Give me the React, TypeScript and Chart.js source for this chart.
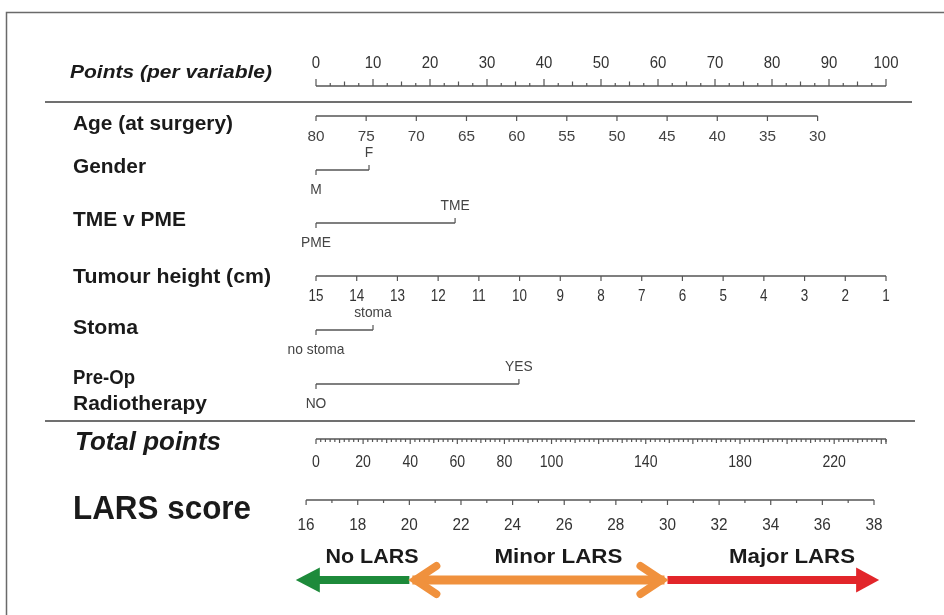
import React, { useEffect, useRef } from "react";
import { Chart, registerables } from "chart.js";

Chart.register(...registerables);

// ---------------- data ----------------
const POINTS_TICKS = [0, 10, 20, 30, 40, 50, 60, 70, 80, 90, 100];
const POINTS_MINOR_STEP = 2.5;

const AGE_TICKS = [80, 75, 70, 65, 60, 55, 50, 45, 40, 35, 30];
const AGE_POINTS = [0, 88]; // points at age 80 and age 30

const GENDER_LEVELS = ["M", "F"];
const GENDER_POINTS = [0, 9.3];

const SURGERY_LEVELS = ["PME", "TME"];
const SURGERY_POINTS = [0, 24.4];

const TUMOUR_TICKS = [15, 14, 13, 12, 11, 10, 9, 8, 7, 6, 5, 4, 3, 2, 1];
const TUMOUR_POINTS = [0, 100]; // points at 15 cm and 1 cm

const STOMA_LEVELS = ["no stoma", "stoma"];
const STOMA_POINTS = [0, 10];

const RADIO_LEVELS = ["NO", "YES"];
const RADIO_POINTS = [0, 35.6];

const TOTAL_TICK_LABELS = [0, 20, 40, 60, 80, 100, 140, 180, 220];
const TOTAL_RANGE = [0, 242];
const TOTAL_MINOR_STEP = 2;

const LARS_TICKS = [16, 17, 18, 19, 20, 21, 22, 23, 24, 25, 26, 27, 28, 29, 30, 31, 32, 33, 34, 35, 36, 37, 38];
const LARS_TOTAL = [-4.2, 236.9]; // total points at LARS 16 and LARS 38

const LARS_CATEGORIES = ["No LARS", "Minor LARS", "Major LARS"];
const LARS_CUTS = [15.6, 20, 30, 38.2];

// ---------------- helpers ----------------
const lin = (v: number, v0: number, v1: number, p0: number, p1: number) =>
  p0 + ((v - v0) * (p1 - p0)) / (v1 - v0);

const agePts = (a: number) => lin(a, AGE_TICKS[0], AGE_TICKS[AGE_TICKS.length - 1], AGE_POINTS[0], AGE_POINTS[1]);
const tumourPts = (h: number) =>
  lin(h, TUMOUR_TICKS[0], TUMOUR_TICKS[TUMOUR_TICKS.length - 1], TUMOUR_POINTS[0], TUMOUR_POINTS[1]);
const totalPts = (t: number) => lin(t, TOTAL_RANGE[0], TOTAL_RANGE[1], 0, 100);
const larsPts = (l: number) =>
  totalPts(lin(l, LARS_TICKS[0], LARS_TICKS[LARS_TICKS.length - 1], LARS_TOTAL[0], LARS_TOTAL[1]));

const W = 944;
const H = 615;
const PX0 = 316; // pixel of 0 points
const PXPP = 5.7; // pixels per point

const ROW = {
  points: 86,
  age: 116,
  gender: 170,
  surgery: 223,
  tumour: 276,
  stoma: 330,
  radio: 384,
  total: 439,
  lars: 500,
  arrows: 580,
};

const SANS = '"Liberation Sans", Arial, Helvetica, sans-serif';

function fitText(
  ctx: CanvasRenderingContext2D,
  text: string,
  x: number,
  y: number,
  width: number | null,
  align: CanvasTextAlign,
  sx = 1
) {
  ctx.save();
  ctx.textAlign = align;
  ctx.textBaseline = "middle";
  ctx.translate(x, y);
  if (width) {
    const w = ctx.measureText(text).width;
    ctx.scale(width / w, 1);
  } else if (sx !== 1) {
    ctx.scale(sx, 1);
  }
  ctx.fillText(text, 0, 0);
  ctx.restore();
}

const seg = (p0: number, p1: number, y: number) => [
  { x: p0, y },
  { x: p1, y },
];

const nomogramPlugin = {
  id: "nomogram",
  beforeDraw(chart: any) {
    const ctx = chart.ctx as CanvasRenderingContext2D;
    ctx.save();
    ctx.fillStyle = "#ffffff";
    ctx.fillRect(0, 0, chart.width, chart.height);
    ctx.restore();
  },
  afterDatasetsDraw(chart: any) {
    const ctx = chart.ctx as CanvasRenderingContext2D;
    const xs = chart.scales.x;
    const ys = chart.scales.y;
    const px = (p: number) => xs.getPixelForValue(p);
    const py = (v: number) => ys.getPixelForValue(v);

    ctx.save();
    // frame
    ctx.strokeStyle = "#6a6a6a";
    ctx.lineWidth = 1.5;
    ctx.beginPath();
    ctx.moveTo(6.5, H);
    ctx.lineTo(6.5, 12.5);
    ctx.lineTo(W, 12.5);
    ctx.stroke();

    // separators
    ctx.strokeStyle = "#707070";
    ctx.lineWidth = 2;
    ctx.beginPath();
    ctx.moveTo(45, 102);
    ctx.lineTo(912, 102);
    ctx.moveTo(45, 421);
    ctx.lineTo(915, 421);
    ctx.stroke();

    const tick = (p: number, y: number, len: number) => {
      ctx.beginPath();
      ctx.moveTo(px(p), py(y));
      ctx.lineTo(px(p), py(y) + len);
      ctx.stroke();
    };

    ctx.strokeStyle = "#555";
    ctx.lineWidth = 1.2;

    // points axis ticks (upward)
    for (let p = 0; p <= 100 + 1e-6; p += POINTS_MINOR_STEP) {
      const len = Math.abs(p % 10) < 1e-6 ? -7 : Math.abs(p % 5) < 1e-6 ? -4.5 : -3;
      tick(p, ROW.points, len);
    }
    // age ticks
    AGE_TICKS.forEach((a) => tick(agePts(a), ROW.age, 5));
    // tumour ticks
    TUMOUR_TICKS.forEach((h) => tick(tumourPts(h), ROW.tumour, 5));
    // binary variables
    const binary: [number[], number][] = [
      [GENDER_POINTS, ROW.gender],
      [SURGERY_POINTS, ROW.surgery],
      [STOMA_POINTS, ROW.stoma],
      [RADIO_POINTS, ROW.radio],
    ];
    binary.forEach(([pts, y]) => {
      tick(pts[0], y, 5);
      tick(pts[1], y, -5);
    });
    // total ticks
    for (let t = TOTAL_RANGE[0]; t <= TOTAL_RANGE[1] + 1e-6; t += TOTAL_MINOR_STEP) {
      const len = t % 20 === 0 ? 5 : t % 10 === 0 ? 4 : 3;
      tick(totalPts(t), ROW.total, len);
    }
    tick(totalPts(TOTAL_RANGE[1]), ROW.total, 5);
    // lars ticks
    LARS_TICKS.forEach((l) => tick(larsPts(l), ROW.lars, l % 2 === 0 ? 5 : 3));

    // tick labels
    ctx.fillStyle = "#333";
    ctx.font = `17px ${SANS}`;
    POINTS_TICKS.forEach((p) => fitText(ctx, String(p), px(p), py(ROW.points - 23), null, "center", 0.88));

    ctx.fillStyle = "#444";
    ctx.font = `15px ${SANS}`;
    AGE_TICKS.forEach((a) => fitText(ctx, String(a), px(agePts(a)), py(ROW.age + 21), null, "center", 1.02));

    ctx.fillStyle = "#333";
    ctx.font = `16px ${SANS}`;
    TUMOUR_TICKS.forEach((h) =>
      fitText(ctx, String(h), px(tumourPts(h)), py(ROW.tumour + 21), null, "center", 0.84)
    );
    TOTAL_TICK_LABELS.forEach((t) =>
      fitText(ctx, String(t), px(totalPts(t)), py(ROW.total + 24), null, "center", 0.88)
    );
    ctx.font = `17px ${SANS}`;
    LARS_TICKS.filter((l) => l % 2 === 0).forEach((l) =>
      fitText(ctx, String(l), px(larsPts(l)), py(ROW.lars + 25), null, "center", 0.9)
    );

    // binary labels
    ctx.font = `15px ${SANS}`;
    ctx.fillStyle = "#444";
    const binLabels: [string[], number[], number][] = [
      [GENDER_LEVELS, GENDER_POINTS, ROW.gender],
      [SURGERY_LEVELS, SURGERY_POINTS, ROW.surgery],
      [STOMA_LEVELS, STOMA_POINTS, ROW.stoma],
      [RADIO_LEVELS, RADIO_POINTS, ROW.radio],
    ];
    binLabels.forEach(([lv, pts, y]) => {
      fitText(ctx, lv[0], px(pts[0]), py(y + 20), null, "center", 0.92);
      fitText(ctx, lv[1], px(pts[1]), py(y - 17), null, "center", 0.92);
    });

    // row titles
    ctx.fillStyle = "#1a1a1a";
    ctx.font = `italic bold 19px ${SANS}`;
    fitText(ctx, "Points (per variable)", 70, py(73), 202, "left");
    ctx.font = `bold 20px ${SANS}`;
    fitText(ctx, "Age (at surgery)", 73, py(124), 160, "left");
    fitText(ctx, "Gender", 73, py(167), 73, "left");
    fitText(ctx, "TME v PME", 73, py(220), 113, "left");
    fitText(ctx, "Tumour height (cm)", 73, py(277), 198, "left");
    fitText(ctx, "Stoma", 73, py(328), 65, "left");
    fitText(ctx, "Pre-Op", 73, py(378), 62, "left");
    fitText(ctx, "Radiotherapy", 73, py(404), 134, "left");
    ctx.font = `italic bold 26px ${SANS}`;
    fitText(ctx, "Total points", 75, py(443), 146, "left");
    ctx.font = `bold 33px ${SANS}`;
    fitText(ctx, "LARS score", 73, py(510), 178, "left");

    // LARS category arrows
    const ay = py(ROW.arrows);
    const x0 = px(larsPts(LARS_CUTS[0]));
    const x1 = px(larsPts(LARS_CUTS[1]));
    const x2 = px(larsPts(LARS_CUTS[2]));
    const x3 = px(larsPts(LARS_CUTS[3]));
    // green (left arrow)
    ctx.fillStyle = "#1d8a3a";
    ctx.fillRect(x0 + 20, ay - 4, x1 - x0 - 20, 8);
    ctx.beginPath();
    ctx.moveTo(x0, ay);
    ctx.lineTo(x0 + 24, ay - 12.5);
    ctx.lineTo(x0 + 24, ay + 12.5);
    ctx.closePath();
    ctx.fill();
    // red (right arrow)
    ctx.fillStyle = "#e2252a";
    ctx.fillRect(x2, ay - 4, x3 - x2 - 20, 8);
    ctx.beginPath();
    ctx.moveTo(x3, ay);
    ctx.lineTo(x3 - 23, ay - 12.5);
    ctx.lineTo(x3 - 23, ay + 12.5);
    ctx.closePath();
    ctx.fill();
    // orange (double chevron)
    ctx.strokeStyle = "#f0913d";
    ctx.fillStyle = "#f0913d";
    ctx.fillRect(x1 + 3, ay - 4.5, x2 - x1 - 6, 9);
    ctx.lineWidth = 8;
    ctx.lineCap = "round";
    ctx.lineJoin = "miter";
    ctx.beginPath();
    ctx.moveTo(x1 + 27, ay - 14);
    ctx.lineTo(x1 + 6, ay);
    ctx.lineTo(x1 + 27, ay + 14);
    ctx.moveTo(x2 - 27, ay - 14);
    ctx.lineTo(x2 - 6, ay);
    ctx.lineTo(x2 - 27, ay + 14);
    ctx.stroke();

    // category texts
    ctx.fillStyle = "#1a1a1a";
    ctx.font = `bold 20px ${SANS}`;
    fitText(ctx, LARS_CATEGORIES[0], 372, py(557), 93, "center");
    fitText(ctx, LARS_CATEGORIES[1], (x1 + x2) / 2 + 20, py(557), 128, "center");
    fitText(ctx, LARS_CATEGORIES[2], 792, py(557), 126, "center");

    ctx.restore();
  },
};

export default function App() {
  const ref = useRef<HTMLCanvasElement | null>(null);

  useEffect(() => {
    if (!ref.current) return;
    const lineStyle = {
      borderColor: "#555",
      borderWidth: 1.3,
      pointRadius: 0,
      showLine: true,
      fill: false,
    };
    const datasets = [
      { label: "points", data: seg(0, 100, ROW.points) },
      { label: "age", data: seg(agePts(AGE_TICKS[0]), agePts(AGE_TICKS[AGE_TICKS.length - 1]), ROW.age) },
      { label: "gender", data: seg(GENDER_POINTS[0], GENDER_POINTS[1], ROW.gender) },
      { label: "surgery", data: seg(SURGERY_POINTS[0], SURGERY_POINTS[1], ROW.surgery) },
      { label: "tumour", data: seg(TUMOUR_POINTS[0], TUMOUR_POINTS[1], ROW.tumour) },
      { label: "stoma", data: seg(STOMA_POINTS[0], STOMA_POINTS[1], ROW.stoma) },
      { label: "radio", data: seg(RADIO_POINTS[0], RADIO_POINTS[1], ROW.radio) },
      { label: "total", data: seg(totalPts(TOTAL_RANGE[0]), totalPts(TOTAL_RANGE[1]), ROW.total) },
      {
        label: "lars",
        data: seg(larsPts(LARS_TICKS[0]), larsPts(LARS_TICKS[LARS_TICKS.length - 1]), ROW.lars),
      },
    ].map((d) => ({ ...d, ...lineStyle }));

    const chart = new Chart(ref.current, {
      type: "scatter",
      data: { datasets },
      options: {
        animation: false,
        responsive: false,
        maintainAspectRatio: false,
        layout: { padding: 0 },
        plugins: { legend: { display: false }, tooltip: { enabled: false } },
        scales: {
          x: { type: "linear", display: false, min: -PX0 / PXPP, max: (W - PX0) / PXPP },
          y: { type: "linear", display: false, min: 0, max: H, reverse: true },
        },
      },
      plugins: [nomogramPlugin],
    } as any);
    return () => chart.destroy();
  }, []);

  return (
    <div style={{ position: "fixed", left: 0, top: 0, width: W, height: H, background: "#fff" }}>
      <canvas ref={ref} width={W} height={H} style={{ display: "block", width: W, height: H }} />
    </div>
  );
}
